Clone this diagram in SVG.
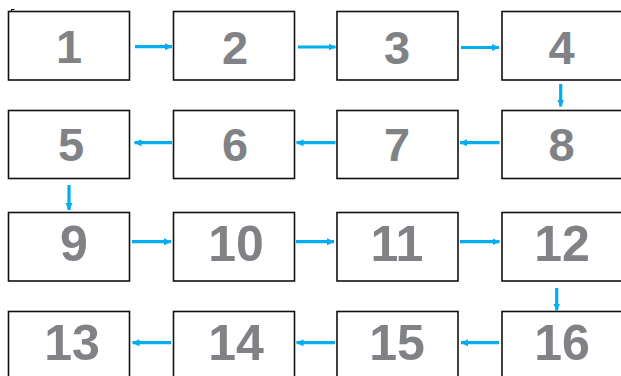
<svg xmlns="http://www.w3.org/2000/svg" width="621" height="376" viewBox="0 0 621 376">
<defs>
<style>
.box{fill:#fff;stroke:#111;stroke-width:1.6}
.t{font-family:"Liberation Sans",Arial,sans-serif;font-weight:bold;fill:#808285;text-anchor:middle}
.s{font-size:47px}
.b{font-size:50px}
.c{stroke:#00aeef;stroke-width:3.2;fill:none;marker-end:url(#ah)}
</style>
<marker id="ah" markerWidth="8" markerHeight="8" refX="7" refY="4" orient="auto" markerUnits="userSpaceOnUse">
<path d="M0,0.5 L7.5,4 L0,7.5 Z" fill="#00aeef"/>
</marker>
</defs>
<rect width="621" height="376" fill="#fff"/>
<path d="M11.5,12 V9.5 H14.5" stroke="#111" stroke-width="1.2" fill="none"/>
<g id="n1"><rect class="box" x="8.5" y="11.5" width="121" height="68.5"/><text class="t s" x="69" y="63">1</text></g>
<g id="n2"><rect class="box" x="173.5" y="11.5" width="121" height="68.5"/><text class="t s" x="235" y="63.5">2</text></g>
<g id="n3"><rect class="box" x="337" y="11.5" width="121" height="68.5"/><text class="t s" x="397" y="63.5">3</text></g>
<g id="n4"><rect class="box" x="502" y="11.5" width="121" height="68.5"/><text class="t s" x="561.5" y="63.5">4</text></g>
<g id="n5"><rect class="box" x="8.5" y="110.5" width="121" height="68"/><text class="t s" x="71" y="160.5">5</text></g>
<g id="n6"><rect class="box" x="173.5" y="110.5" width="121" height="68"/><text class="t s" x="235" y="160.5">6</text></g>
<g id="n7"><rect class="box" x="337" y="110.5" width="121" height="68"/><text class="t s" x="397" y="160.5">7</text></g>
<g id="n8"><rect class="box" x="502" y="110.5" width="121" height="68"/><text class="t s" x="561.5" y="160.5">8</text></g>
<g id="n9"><rect class="box" x="8.5" y="212.5" width="121" height="68.5"/><text class="t b" x="74" y="261">9</text></g>
<g id="n10"><rect class="box" x="173.5" y="212.5" width="121" height="68.5"/><text class="t b" x="236" y="261">10</text></g>
<g id="n11"><rect class="box" x="337" y="212.5" width="121" height="68.5"/><text class="t b" x="397" y="261">11</text></g>
<g id="n12"><rect class="box" x="502" y="212.5" width="121" height="68.5"/><text class="t b" x="562" y="261">12</text></g>
<g id="n13"><rect class="box" x="8.5" y="311.5" width="121" height="70"/><text class="t b" x="72" y="360">13</text></g>
<g id="n14"><rect class="box" x="173.5" y="311.5" width="121" height="70"/><text class="t b" x="236" y="360">14</text></g>
<g id="n15"><rect class="box" x="337" y="311.5" width="121" height="70"/><text class="t b" x="397" y="360">15</text></g>
<g id="n16"><rect class="box" x="502" y="311.5" width="121" height="70"/><text class="t b" x="562" y="360">16</text></g>
<g id="connectors">
<line class="c" x1="135" y1="46.7" x2="172" y2="46.7"/>
<line class="c" x1="298" y1="47" x2="335.5" y2="47"/>
<line class="c" x1="461" y1="47.5" x2="499" y2="47.5"/>
<line class="c" x1="560.7" y1="84" x2="560.7" y2="106.5"/>
<line class="c" x1="499.5" y1="142.7" x2="460" y2="142.7"/>
<line class="c" x1="335.5" y1="142.7" x2="296.5" y2="142.7"/>
<line class="c" x1="172" y1="142.7" x2="134.5" y2="142.7"/>
<line class="c" x1="69" y1="185" x2="69" y2="210"/>
<line class="c" x1="132" y1="241.7" x2="171" y2="241.7"/>
<line class="c" x1="296" y1="241.7" x2="334" y2="241.7"/>
<line class="c" x1="460" y1="241.7" x2="499.5" y2="241.7"/>
<line class="c" x1="556.7" y1="288" x2="556.7" y2="310.5"/>
<line class="c" x1="499" y1="342.7" x2="461" y2="342.7"/>
<line class="c" x1="335" y1="342.7" x2="296.5" y2="342.7"/>
<line class="c" x1="171" y1="342.7" x2="132.5" y2="342.7"/>
</g>
</svg>
